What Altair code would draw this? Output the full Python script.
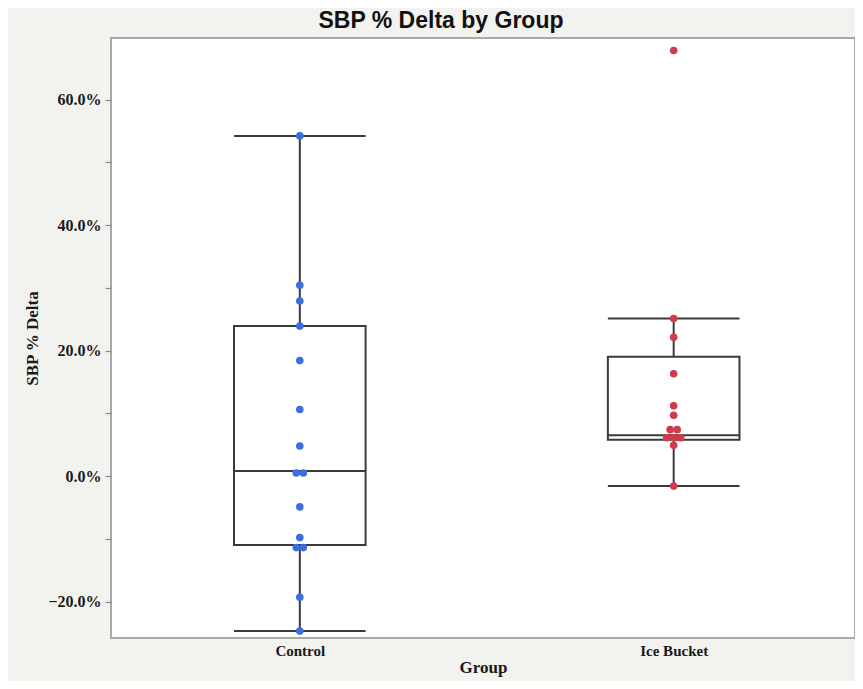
import json
import altair as alt
import pandas as pd

# ---- data ----
groups = ["Control", "Ice Bucket"]
control_vals = [54.2, 30.4, 27.9, 23.9, 18.4, 10.6, 4.8, 0.5, 0.5, -4.9, -9.8, -11.4, -11.4, -19.3, -24.7]
ice_vals = [67.8, 25.1, 22.1, 16.3, 11.2, 9.7, 7.4, 7.4, 6.1, 6.1, 6.1, 4.9, -1.6]

whisker_low = [-24.7, -1.6]
q1 = [-11.0, 5.8]
median = [0.8, 6.5]
q3 = [23.9, 19.0]
whisker_high = [54.2, 25.1]

colors = ["#3d6ee0", "#d13a4d"]
y_ticks = [-20, -10, 0, 10, 20, 30, 40, 50, 60]

# ---- layout constants ----
BOX_HALF = 0.176
DOT_STEP = 0.0188
LINE = "#3a3a3a"

rows = []
for gi, vals in enumerate([control_vals, ice_vals]):
    counts = {}
    for v in vals:
        counts[v] = counts.get(v, 0) + 1
    seen = {}
    for v in vals:
        k = counts[v]
        i = seen.get(v, 0)
        seen[v] = i + 1
        rows.append({"group": groups[gi], "gi": gi, "value": v,
                     "xp": gi + (i - (k - 1) / 2) * DOT_STEP})
pts = pd.DataFrame(rows)

box = pd.DataFrame({
    "group": groups, "gi": list(range(len(groups))),
    "lo": whisker_low, "q1": q1, "med": median, "q3": q3, "hi": whisker_high,
})
box["xl"] = box["gi"] - BOX_HALF
box["xr"] = box["gi"] + BOX_HALF

xs = alt.Scale(domain=[-0.505, 1.485], nice=False, zero=False)
ys = alt.Scale(domain=[-25.8, 69.8], nice=False, zero=False)

xaxis = alt.Axis(values=[0, 1], labelExpr=json.dumps(groups) + "[datum.value]",
                 title="Group", ticks=False, domain=False, grid=False,
                 labelPadding=5, titlePadding=1, labelFontSize=15, titleFontSize=17)
yaxis = alt.Axis(values=y_ticks,
                 labelExpr="datum.value % 20 === 0 ? format(datum.value, '.1f') + '%' : ''",
                 title="SBP % Delta", domain=False, grid=False, tickSize=6,
                 tickColor="#8a8a8a", tickWidth=1.2, labelPadding=4,
                 labelFontSize=16, titleFontSize=17, titleX=-70)

base = alt.Chart(box)

whisk_lo = base.mark_rule(color=LINE, strokeWidth=2).encode(
    x=alt.X("gi:Q", scale=xs, axis=xaxis),
    y=alt.Y("lo:Q", scale=ys, axis=yaxis), y2="q1:Q")
whisk_hi = base.mark_rule(color=LINE, strokeWidth=2).encode(
    x=alt.X("gi:Q", scale=xs, axis=xaxis),
    y=alt.Y("q3:Q", scale=ys, axis=yaxis), y2="hi:Q")
cap_lo = base.mark_rule(color=LINE, strokeWidth=2).encode(
    x=alt.X("xl:Q", scale=xs, axis=xaxis), x2="xr:Q",
    y=alt.Y("lo:Q", scale=ys, axis=yaxis))
cap_hi = base.mark_rule(color=LINE, strokeWidth=2).encode(
    x=alt.X("xl:Q", scale=xs, axis=xaxis), x2="xr:Q",
    y=alt.Y("hi:Q", scale=ys, axis=yaxis))
rect = base.mark_rect(fill="white", fillOpacity=0, stroke=LINE, strokeWidth=2).encode(
    x=alt.X("xl:Q", scale=xs, axis=xaxis), x2="xr:Q",
    y=alt.Y("q1:Q", scale=ys, axis=yaxis), y2="q3:Q")
med = base.mark_rule(color=LINE, strokeWidth=2).encode(
    x=alt.X("xl:Q", scale=xs, axis=xaxis), x2="xr:Q",
    y=alt.Y("med:Q", scale=ys, axis=yaxis))
dots = alt.Chart(pts).mark_circle(size=58, opacity=1).encode(
    x=alt.X("xp:Q", scale=xs, axis=xaxis),
    y=alt.Y("value:Q", scale=ys, axis=yaxis),
    color=alt.Color("group:N", scale=alt.Scale(domain=groups, range=colors), legend=None))

chart = alt.layer(whisk_lo, whisk_hi, cap_lo, cap_hi, rect, med, dots).properties(
    width=744, height=600,
    autosize=alt.AutoSizeParams(type="none"),
    padding={"left": 103, "top": 30, "right": 0, "bottom": 43},
    background="#f2f2ee",
    title=alt.TitleParams("SBP % Delta by Group", font="Liberation Sans", fontSize=23,
                          fontWeight="bold", color="#111111", anchor="middle",
                          dx=-42, offset=5),
).configure_view(
    fill="white", stroke="#a9a9a9", strokeWidth=2
).configure_axis(
    labelFont="Liberation Serif", labelFontWeight="bold", labelColor="#1a1a1a",
    titleFont="Liberation Serif", titleFontWeight="bold", titleColor="#1a1a1a",
)

chart.save("out.html", embed_options={"renderer": "svg", "actions": False})
